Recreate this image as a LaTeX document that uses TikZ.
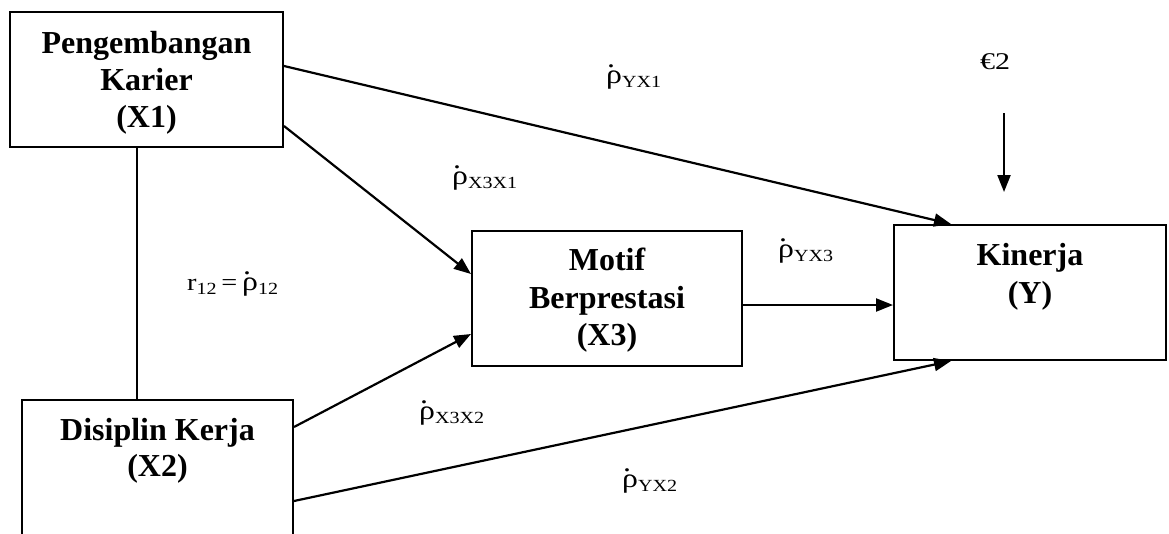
\documentclass[tikz,border=0pt]{standalone}
\usepackage{fontspec}
\setmainfont{Liberation Serif}
\usepackage{graphicx}
\usetikzlibrary{arrows.meta,calc}
\newcommand{\rd}{{\fontsize{27}{30}\selectfont\makebox[0pt][l]{\hspace{0.03em}\raisebox{0.56em}{.}}ρ}}
\newcommand{\sbs}[1]{\raisebox{-4pt}{\fontsize{17}{17}\selectfont #1}}
\newcommand{\lbl}[1]{\scalebox{1.18}[1]{\fontsize{24}{28}\selectfont #1}}
\begin{document}
\begin{tikzpicture}[x=1pt,y=-1pt,
  box/.style={draw, line width=2pt, inner sep=0pt, rectangle},
  bt/.style={font=\fontsize{32}{37}\selectfont\bfseries, inner sep=0pt, anchor=base},
  lab/.style={inner sep=0pt, anchor=base west},
  conn/.style={line width=2.2pt},
  arr/.style={line width=2.2pt, -{Triangle[length=17pt,width=13pt]}}]
\useasboundingbox (0,0) rectangle (1169,533);
\clip (0,0) rectangle (1169,533);
% boxes
\node[box, minimum width=273pt, minimum height=135pt] (x1) at (146.5,79.5) {};
\node[box, minimum width=271pt, minimum height=160pt] (x2) at (157.5,480) {};
\node[box, minimum width=270pt, minimum height=135pt] (x3) at (607,298.5) {};
\node[box, minimum width=272pt, minimum height=135pt] (y) at (1030,292.5) {};
% box texts
\node[bt] (x1a) at (146.5,53) {Pengembangan};
\node[bt] (x1b) at (146.5,90) {Karier};
\node[bt] (x1c) at (146.5,127) {(X1)};
\node[bt] (x2a) at (157.5,440) {Disiplin Kerja};
\node[bt] (x2b) at (157.5,476) {(X2)};
\node[bt] (x3a) at (607,270) {Motif};
\node[bt] (x3b) at (607,308) {Berprestasi};
\node[bt] (x3c) at (607,345) {(X3)};
\node[bt] (ya) at (1030,265) {Kinerja};
\node[bt] (yb) at (1030,303) {(Y)};
% connectors
\draw[conn] ([xshift=-9.5pt]x1.south) -- ([xshift=-9.5pt]x1.south |- x2.north);
\draw[arr] ([yshift=-55pt]x1.north east) -- ([xshift=58pt]y.north west);
\draw[arr] ([yshift=-115pt]x1.north east) -- ([yshift=-44pt]x3.north west);
\draw[arr] ([yshift=-28pt]x2.north east) -- ([yshift=-104pt]x3.north west);
\draw[arr] ([yshift=-102pt]x2.north east) -- ([xshift=58pt]y.south west);
\draw[arr] ([yshift=-75pt]x3.north east) -- ([yshift=-75pt]x3.north east -| y.west);
\coordinate (e2s) at (1004,113);
\coordinate (e2e) at (1004,192);
\draw[arr] (e2s) -- (e2e);
% labels
\node[lab] (e2) at (980,69) {\scalebox{1.25}[1]{\fontsize{24}{28}\selectfont €2}};
\node[lab] (lyx1) at (606,83) {\lbl{\rd\sbs{YX1}}};
\node[lab] (lx3x1) at (452,184) {\lbl{\rd\sbs{X3X1}}};
\node[lab] (lx3x2) at (419,419) {\lbl{\rd\sbs{X3X2}}};
\node[lab] (lyx3) at (778,257) {\lbl{\rd\sbs{YX3}}};
\node[lab] (lyx2) at (622,487) {\lbl{\rd\sbs{YX2}}};
\node[lab] (lr12) at (187,290) {\lbl{r\sbs{12}\,=\,\rd\sbs{12}}};
\end{tikzpicture}
\end{document}
